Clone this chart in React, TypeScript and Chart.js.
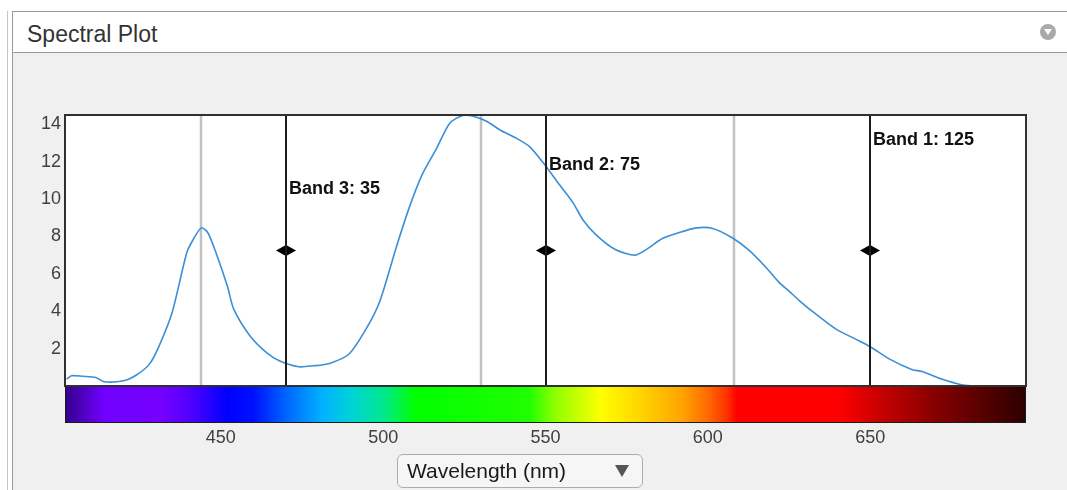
import React, { useEffect, useRef } from 'react';
import { Chart, registerables } from 'chart.js';

Chart.register(...registerables);

// ---- data ----
const wavelengths = [
  402.5, 404, 407.5, 411.5, 414, 420, 424, 428, 431, 435, 439.5, 441.5, 444, 446, 448.5, 452, 454, 459, 464, 468,
  474, 478.5, 483.5, 489.5, 495, 499, 504, 508, 512, 516.5, 520.5, 524.5, 527.5, 532, 536, 541, 545, 549.5,
  553.5, 558.5, 561.5, 565.5, 571.5, 577.5, 581, 586, 591, 596.5, 601.5, 607.5, 613, 618, 622, 625, 628, 632,
  639.5, 645.5, 650, 656, 663, 666, 672, 678.5, 682.5, 690, 698,
];
const intensity = [
  0.37, 0.55, 0.52, 0.46, 0.23, 0.28, 0.59, 1.17, 2.15, 3.93, 7.13, 7.84, 8.46, 8.2, 7.13, 5.35, 4.1, 2.68, 1.8, 1.35,
  1.03, 1.08, 1.21, 1.71, 3.13, 4.55, 7.4, 9.53, 11.31, 12.73, 14.06, 14.48, 14.45, 14.15, 13.7, 13.26, 12.82, 11.9,
  10.95, 9.8, 8.9, 8.1, 7.3, 7.0, 7.3, 7.89, 8.2, 8.46, 8.43, 7.93, 7.22, 6.33, 5.53, 5.08, 4.6, 4.02,
  3.04, 2.51, 2.1, 1.44, 0.87, 0.78, 0.37, 0.05, 0.0, 0.0, 0.0,
];
const xTickValues = [450, 500, 550, 600, 650];
const yTickValues = [2, 4, 6, 8, 10, 12, 14];
const bandWavelengths = [650, 550, 470];
const bandNames = ['Band 1: 125', 'Band 2: 75', 'Band 3: 35'];
const bandLabelLevels = [12.88, 11.55, 10.27];
const rgbMarkerWavelengths = [444, 530, 608];
const spectrumStops = [402, 414, 432, 441, 452, 460, 470, 481, 490, 500, 510, 545, 553, 567, 580, 592, 600, 606, 609, 640, 650, 670, 698];
const spectrumColors = [
  '#33008a', '#7000ff', '#7400ff', '#4e00ff', '#0000ff', '#0010ff', '#0064ff', '#00b0ff', '#00d2d8', '#00e890',
  '#00ff00', '#20ff00', '#90ff00', '#ffff00', '#ffd200', '#ffa400', '#ff6a00', '#ff3000', '#ff0000', '#ff0000',
  '#d40000', '#860000', '#2c0000',
];

const FONT = "'Liberation Sans', Arial, sans-serif";
const X_MIN = 402;
const X_MAX = 698;
const Y_MAX = 14.5;

const overlayPlugin = {
  id: 'spectralOverlay',
  beforeDatasetsDraw(chart: any) {
    const { ctx, chartArea: a, scales } = chart;
    const x = scales.x;
    ctx.save();
    ctx.fillStyle = '#ffffff';
    ctx.fillRect(a.left, a.top, a.right - a.left, a.bottom - a.top);
    ctx.strokeStyle = '#c2c2c2';
    ctx.lineWidth = 2.5;
    rgbMarkerWavelengths.forEach((w) => {
      const px = Math.round(x.getPixelForValue(w));
      ctx.beginPath();
      ctx.moveTo(px, a.top);
      ctx.lineTo(px, a.bottom);
      ctx.stroke();
    });
    ctx.restore();
  },
  afterDatasetsDraw(chart: any) {
    const { ctx, chartArea: a, scales } = chart;
    const x = scales.x;
    const y = scales.y;
    ctx.save();
    // colour bar
    const barTop = a.bottom;
    const barH = 37;
    const grad = ctx.createLinearGradient(a.left, 0, a.right, 0);
    spectrumStops.forEach((w, i) => {
      const f = (x.getPixelForValue(w) - a.left) / (a.right - a.left);
      grad.addColorStop(Math.min(1, Math.max(0, f)), spectrumColors[i]);
    });
    ctx.fillStyle = grad;
    ctx.fillRect(a.left, barTop, a.right - a.left, barH);
    ctx.strokeStyle = '#1a1a1a';
    ctx.lineWidth = 1;
    ctx.strokeRect(a.left + 0.5, barTop + 0.5, a.right - a.left - 1, barH - 1);

    // band lines
    const midY = (a.top + a.bottom) / 2;
    bandWavelengths.forEach((w, i) => {
      const px = Math.round(x.getPixelForValue(w));
      ctx.strokeStyle = '#1c1c1c';
      ctx.lineWidth = 2;
      ctx.beginPath();
      ctx.moveTo(px, a.top);
      ctx.lineTo(px, a.bottom);
      ctx.stroke();
      // arrows
      ctx.fillStyle = '#000000';
      ctx.beginPath();
      ctx.moveTo(px - 1, midY - 5);
      ctx.lineTo(px - 1, midY + 5);
      ctx.lineTo(px - 10, midY);
      ctx.closePath();
      ctx.fill();
      ctx.beginPath();
      ctx.moveTo(px + 1, midY - 5);
      ctx.lineTo(px + 1, midY + 5);
      ctx.lineTo(px + 10, midY);
      ctx.closePath();
      ctx.fill();
      // label
      ctx.font = `bold 18px ${FONT}`;
      ctx.fillStyle = '#111111';
      ctx.textAlign = 'left';
      ctx.textBaseline = 'alphabetic';
      ctx.fillText(bandNames[i], px + 3, y.getPixelForValue(bandLabelLevels[i]));
    });

    // plot frame
    ctx.strokeStyle = '#303030';
    ctx.lineWidth = 2;
    ctx.strokeRect(a.left, a.top, a.right - a.left, a.bottom - a.top);
    ctx.restore();
  },
};

export default function App() {
  const ref = useRef<HTMLCanvasElement | null>(null);

  useEffect(() => {
    if (!ref.current) return;
    const chart = new Chart(ref.current, {
      type: 'line',
      data: {
        datasets: [
          {
            data: wavelengths.map((w, i) => ({ x: w, y: intensity[i] })),
            borderColor: '#3b8fd6',
            borderWidth: 1.6,
            pointRadius: 0,
            tension: 0.25,
            fill: false,
          },
        ],
      },
      options: {
        animation: false,
        responsive: false,
        events: [],
        layout: { padding: { left: 13, top: 115, right: 41, bottom: 44 } },
        plugins: { legend: { display: false }, tooltip: { enabled: false } },
        scales: {
          x: {
            type: 'linear',
            min: X_MIN,
            max: X_MAX,
            grid: { display: false, drawTicks: false },
            border: { display: false },
            afterBuildTicks: (axis: any) => {
              axis.ticks = xTickValues.map((v) => ({ value: v }));
            },
            afterFit: (axis: any) => {
              axis.height = 60;
            },
            ticks: {
              padding: 41,
              maxRotation: 0,
              color: '#404040',
              font: { family: FONT, size: 18 },
              callback: (v: any) => String(v),
            },
          },
          y: {
            type: 'linear',
            min: 0,
            max: Y_MAX,
            grid: { display: false, drawTicks: false },
            border: { display: false },
            afterBuildTicks: (axis: any) => {
              axis.ticks = yTickValues.map((v) => ({ value: v }));
            },
            afterFit: (axis: any) => {
              axis.width = 52;
            },
            ticks: {
              padding: 4,
              color: '#404040',
              font: { family: FONT, size: 18 },
              callback: (v: any) => String(v),
            },
          },
        },
      },
      plugins: [overlayPlugin],
    });
    return () => chart.destroy();
  }, []);

  return (
    <div style={{ position: 'absolute', left: 0, top: 0, width: 1067, height: 490, background: '#ffffff', overflow: 'hidden', fontFamily: FONT }}>
      {/* panel body */}
      <div style={{ position: 'absolute', left: 12, top: 52, width: 1055, height: 438, background: '#f0f0f0' }} />
      {/* borders */}
      <div style={{ position: 'absolute', left: 12, top: 11, width: 1055, height: 1, background: '#9a9a9a' }} />
      <div style={{ position: 'absolute', left: 12, top: 52, width: 1055, height: 1, background: '#9a9a9a' }} />
      <div style={{ position: 'absolute', left: 12, top: 11, width: 1, height: 479, background: '#9a9a9a' }} />
      <div style={{ position: 'absolute', left: 7, top: 11, width: 1, height: 479, background: '#c4c4c4' }} />
      {/* title */}
      <div style={{ position: 'absolute', left: 27, top: 23, fontSize: 23, lineHeight: '23px', color: '#333333', whiteSpace: 'nowrap' }}>
        Spectral Plot
      </div>
      {/* collapse icon */}
      <div style={{ position: 'absolute', left: 1040, top: 24, width: 16, height: 16, borderRadius: 8, background: '#a9a9a9' }} />
      <div
        style={{
          position: 'absolute',
          left: 1044,
          top: 29,
          width: 0,
          height: 0,
          borderLeft: '4px solid transparent',
          borderRight: '4px solid transparent',
          borderTop: '6px solid #ffffff',
        }}
      />
      <canvas ref={ref} width={1067} height={490} style={{ position: 'absolute', left: 0, top: 0, width: 1067, height: 490 }} />
      {/* dropdown */}
      <div
        style={{
          position: 'absolute',
          left: 397,
          top: 454,
          width: 246,
          height: 34,
          boxSizing: 'border-box',
          border: '1px solid #acacac',
          borderRadius: 6,
          background: '#f6f6f6',
        }}
      >
        <span style={{ position: 'absolute', left: 9, top: 0, fontSize: 21, lineHeight: '32px', color: '#1a1a1a', whiteSpace: 'nowrap' }}>
          Wavelength (nm)
        </span>
      </div>
      <div
        style={{
          position: 'absolute',
          left: 615,
          top: 465,
          width: 0,
          height: 0,
          borderLeft: '7px solid transparent',
          borderRight: '7px solid transparent',
          borderTop: '12px solid #555555',
        }}
      />
    </div>
  );
}
